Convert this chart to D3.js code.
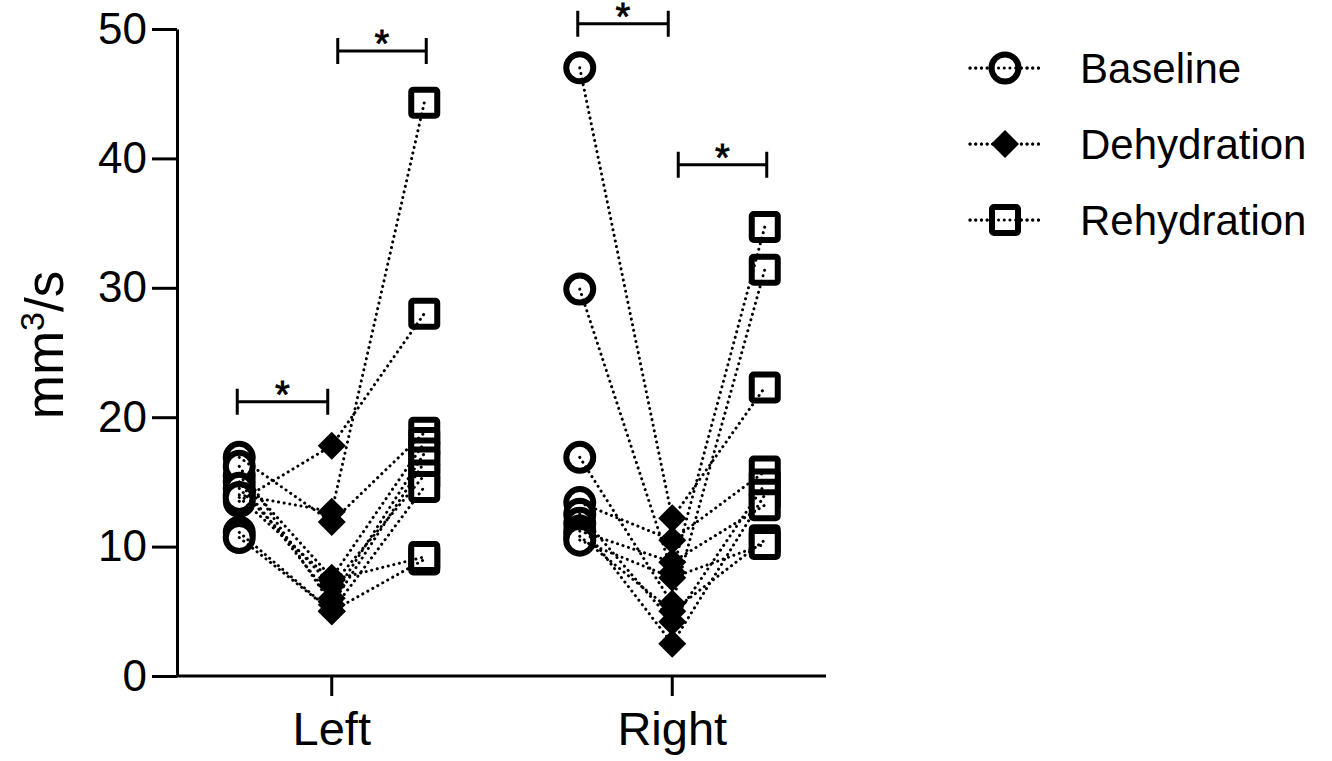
<!DOCTYPE html>
<html>
<head>
<meta charset="utf-8">
<script src="https://cdn.jsdelivr.net/npm/d3@7"></script>
<style>
  html,body{margin:0;padding:0;background:#fff;}
  svg{display:block;font-family:"Liberation Sans",Arial,sans-serif;}
</style>
</head>
<body>
<div id="chart"></div>
<script>
// Baseline / Dehydration / Rehydration je Seite, eine Zeile pro Proband
const sides = ["Left", "Right"];
const conditions = ["Baseline", "Dehydration", "Rehydration"];
const yTicks = [0, 10, 20, 30, 40, 50];

const leftBaseline    = [14.0, 13.5, 16.9, 15.5, 15.0, 16.2, 14.5, 11.1, 10.7, 13.8];
const leftDehydration = [12.7, 17.8, 11.9,  7.6,  6.0,  5.5,  7.0,  5.0,  5.0,  7.4];
const leftRehydration = [44.3, 28.0, 18.8, 18.0, 17.2, 16.5, 15.5, 14.6,  9.0,  9.2];

const rightBaseline    = [47.0, 29.9, 16.9, 13.4, 12.5, 11.8, 11.2, 10.8, 10.5];
const rightDehydration = [12.2,  8.0,  5.6, 10.5,  4.2,  2.5,  8.8,  5.0,  7.6];
const rightRehydration = [22.3, 34.7, 31.4, 15.8, 14.8, 14.0, 13.2, 10.5, 10.2];

// Signifikanz-Klammern: Seite, von, bis, Höhe (Wert)
const sigSide = ["Left", "Left", "Right", "Right"];
const sigFrom = ["Baseline", "Dehydration", "Baseline", "Dehydration"];
const sigTo   = ["Dehydration", "Rehydration", "Dehydration", "Rehydration"];
const sigY    = [21.2, 48.3, 50.4, 39.5];

const W = 1332, H = 761;
const svg = d3.select("#chart").append("svg").attr("width", W).attr("height", H);

const y = d3.scaleLinear().domain([0, 50]).range([676, 29]);
const xSide = d3.scalePoint().domain(sides).range([177, 826]).padding(0.453);
const xCond = d3.scalePoint().domain(conditions).range([-92, 93]);
const xPos = (side, cond) => xSide(side) + xCond(cond);

const subjects = [];
leftBaseline.forEach((v, i) => subjects.push({side: "Left", vals: [v, leftDehydration[i], leftRehydration[i]]}));
rightBaseline.forEach((v, i) => subjects.push({side: "Right", vals: [v, rightDehydration[i], rightRehydration[i]]}));

// Achsen
const yAxis = svg.append("g").attr("transform", "translate(177,0)")
  .call(d3.axisLeft(y).tickValues(yTicks).tickSize(25).tickPadding(5).tickSizeOuter(0));
const xAxis = svg.append("g").attr("transform", "translate(0,676)")
  .call(d3.axisBottom(xSide).tickSize(20).tickPadding(16).tickSizeOuter(0));
[yAxis, xAxis].forEach(a => {
  a.select(".domain").attr("stroke", "#000").attr("stroke-width", 3);
  a.selectAll(".tick line").attr("stroke", "#000").attr("stroke-width", 3);
  a.selectAll(".tick text").attr("fill", "#000").attr("font-family", "Liberation Sans, Arial, sans-serif");
});
xAxis.select(".domain").attr("d", "M177,0H826");
yAxis.selectAll(".tick text").attr("font-size", 44);
xAxis.selectAll(".tick text").attr("font-size", 47);

svg.append("text").attr("transform", "translate(63,345) rotate(-90)").attr("text-anchor", "middle")
  .attr("font-size", 53).html('mm<tspan dy="-19" font-size="34">3</tspan><tspan dy="19">/s</tspan>');

// Marker
const sym = {
  Baseline: g => g.append("circle").attr("r", 13.5).attr("fill", "#fff").attr("stroke", "#000").attr("stroke-width", 6),
  Dehydration: g => g.append("path").attr("d", "M0,-14L14,0L0,14L-14,0Z").attr("fill", "#000"),
  Rehydration: g => g.append("rect").attr("x", -13).attr("y", -13).attr("width", 26).attr("height", 26).attr("rx", 2)
    .attr("fill", "#fff").attr("stroke", "#000").attr("stroke-width", 6)
};

const marks = svg.append("g");
subjects.forEach(s => {
  conditions.forEach((c, j) => {
    sym[c](marks.append("g").attr("transform", `translate(${xPos(s.side, c)},${y(s.vals[j])})`));
  });
});

const line = d3.line().x(d => d[0]).y(d => d[1]);
const dotted = sel => sel.attr("fill", "none").attr("stroke", "#000").attr("stroke-width", 3)
  .attr("stroke-linecap", "round").attr("stroke-dasharray", "0.1 5.6");
svg.append("g").selectAll("path").data(subjects).join("path")
  .attr("d", s => line(conditions.map((c, j) => [xPos(s.side, c), y(s.vals[j])])))
  .call(dotted);

// Klammern
const br = svg.append("g");
sigY.forEach((v, i) => {
  const x1 = xPos(sigSide[i], sigFrom[i]) + (sigFrom[i] === "Dehydration" ? 6 : -2);
  const x2 = xPos(sigSide[i], sigTo[i]) + (sigTo[i] === "Dehydration" ? -4 : 2);
  const yy = y(v);
  br.append("path").attr("d", `M${x1},${yy - 13}V${yy + 13}M${x1},${yy}H${x2}M${x2},${yy - 13}V${yy + 13}`)
    .attr("stroke", "#000").attr("stroke-width", 3).attr("fill", "none");
  br.append("text").attr("x", (x1 + x2) / 2).attr("y", yy + 6).attr("text-anchor", "middle")
    .attr("font-size", 38).attr("stroke", "#000").attr("stroke-width", 0.8).text("*");
});

// Legende
const lg = svg.append("g").attr("transform", "translate(1005,0)");
conditions.forEach((c, i) => {
  const row = lg.append("g").attr("transform", `translate(0,${68 + i * 76})`);
  row.append("path").attr("d", "M-35,0H35").call(dotted);
  sym[c](row);
  row.append("path").attr("d", "M-35,0H35").call(dotted);
  row.append("text").attr("x", 75).attr("y", 0).attr("dy", "0.35em").attr("font-size", 42).text(c);
});
</script>
</body>
</html>
